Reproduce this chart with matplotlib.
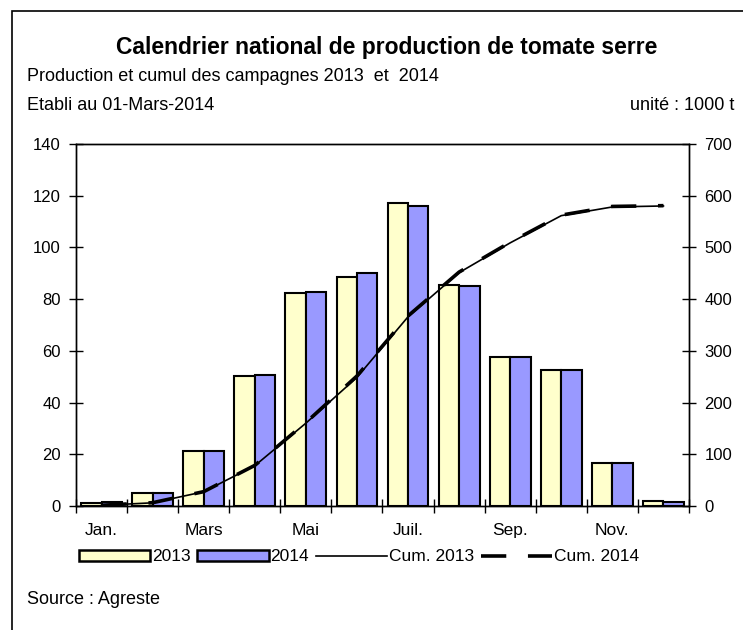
import numpy as np
import matplotlib
matplotlib.use("Agg")
import matplotlib.pyplot as plt
from matplotlib.lines import Line2D
from matplotlib.patches import Rectangle

plt.rcParams['font.family'] = ['Liberation Sans', 'DejaVu Sans']

months = ['Jan.', 'Fév.', 'Mars', 'Avr.', 'Mai', 'Juin',
          'Juil.', 'Août', 'Sep.', 'Oct.', 'Nov.', 'Déc.']
prod_2013 = [1.3, 4.9, 21.4, 50.3, 82.3, 88.5, 117.2, 85.4, 57.6, 52.6, 16.8, 1.9]
prod_2014 = [1.5, 4.9, 21.4, 50.8, 82.7, 90.2, 116.0, 84.9, 57.6, 52.5, 16.8, 1.5]
cum_2013 = [1.3, 6.2, 27.6, 77.9, 160.2, 248.7, 365.9, 451.3, 508.9, 561.5, 578.3, 580.2]
cum_2014 = [1.5, 6.4, 27.8, 78.6, 161.3, 251.5, 367.5, 452.4, 510.0, 562.5, 579.3, 580.8]

yellow = '#FFFFCC'
blue = '#9999FF'

fig = plt.figure(figsize=(7.43, 6.3), dpi=100)
ax = fig.add_axes([0.1023, 0.1968, 0.825, 0.5746])
ax2 = ax.twinx()

x = np.arange(len(months))
w = 0.4
ax.bar(x - w / 2, prod_2013, w, color=yellow, edgecolor='black', linewidth=1.5,
       label='2013', zorder=2)
ax.bar(x + w / 2, prod_2014, w, color=blue, edgecolor='black', linewidth=1.5,
       label='2014', zorder=2)

ax2.plot(x, cum_2013, color='black', lw=1.2, label='Cum. 2013')
ax2.plot(x, cum_2014, color='black', lw=2.6, dashes=(7, 6), label='Cum. 2014')

ax.set_xlim(-0.5, 11.5)
ax.set_ylim(0, 140)
ax2.set_ylim(0, 700)
ax.set_yticks(np.arange(0, 141, 20))
ax2.set_yticks(np.arange(0, 701, 100))

# ticks at category boundaries, labels every other month
ax.set_xticks(np.arange(-0.5, 12, 1))
ax.set_xticklabels([])
ax.set_xticks(x[::2], minor=True)
ax.set_xticklabels(months[::2], minor=True)
ax.tick_params(axis='x', which='major', direction='inout', length=10, width=1)
ax.tick_params(axis='x', which='minor', length=0, pad=12, labelsize=12.5)
ax.tick_params(axis='y', direction='inout', length=10, width=1, pad=6, labelsize=12)
ax2.tick_params(axis='y', direction='inout', length=10, width=1, pad=6, labelsize=12)

for a in (ax, ax2):
    for s in a.spines.values():
        s.set_linewidth(1)

# legend
handles = [
    Rectangle((0, 0), 1, 1, facecolor=yellow, edgecolor='black', linewidth=1.8),
    Rectangle((0, 0), 1, 1, facecolor=blue, edgecolor='black', linewidth=1.8),
    Line2D([], [], color='black', lw=1.2),
    Line2D([], [], color='black', lw=2.6, dashes=(7, 6)),
]
labels = ['2013', '2014', 'Cum. 2013', 'Cum. 2014']
fig.legend(handles, labels, loc='center', bbox_to_anchor=(0.483, 0.116), ncol=4,
           frameon=False, fontsize=12.5, handlelength=4.1, handleheight=0.55,
           handletextpad=0.1, columnspacing=0.4)

# texts
fig.text(0.52, 0.925, 'Calendrier national de production de tomate serre',
         ha='center', va='center', fontsize=16.5, fontweight='bold')
fig.text(0.036, 0.879, 'Production et cumul des campagnes 2013  et  2014',
         ha='left', va='center', fontsize=13)
fig.text(0.036, 0.833, 'Etabli au 01-Mars-2014', ha='left', va='center', fontsize=13)
fig.text(0.989, 0.833, 'unité : 1000 t', ha='right', va='center', fontsize=13)
fig.text(0.036, 0.048, 'Source : Agreste', ha='left', va='center', fontsize=13)

# outer frame
fig.add_artist(Rectangle((12 / 743, -0.1), 1.2, 1 - 11 / 630 + 0.1,
                         transform=fig.transFigure, fill=False,
                         edgecolor='black', linewidth=1.2))

fig.savefig('out.png', dpi=100)
